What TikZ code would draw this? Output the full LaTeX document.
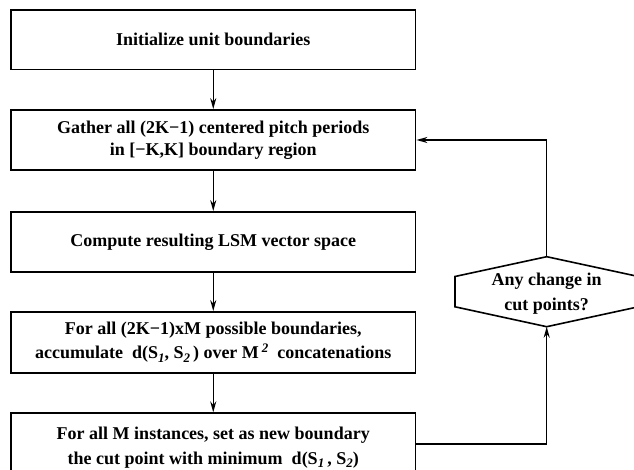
\documentclass[tikz,border=0pt]{standalone}
\usepackage{fontspec}
\setmainfont{Liberation Serif}
\usetikzlibrary{arrows.meta}
\newcommand\mysub[1]{\raisebox{-0.4ex}{\fontsize{13}{13}\selectfont\itshape #1}}
\newcommand\mysup[1]{\raisebox{0.75ex}{\fontsize{13}{13}\selectfont\itshape #1}}
\tikzset{
  stepbox/.style={draw=black, line width=1.8pt, rectangle, minimum width=404.5pt, inner sep=0pt,
    align=center, font=\fontsize{18}{22}\selectfont\bfseries},
  arr/.style={line width=1.5pt, -{Stealth[length=11pt,width=6pt]}},
  hexline/.style={draw=black, line width=1.6pt, line join=miter}
}
\begin{document}
\begin{tikzpicture}[x=1pt,y=-1pt]
\useasboundingbox (0,0) rectangle (634,470);
\clip (0,0) rectangle (634,470);
\node[stepbox, minimum height=59.5pt] (b1) at (213.25,39.75) {Initialize unit boundaries};
\node[stepbox, minimum height=60pt] (b2) at (213.25,140) {Gather all (2K−1) centered pitch periods\\in [−K,K] boundary region};
\node[stepbox, minimum height=60pt] (b3) at (213.25,242) {Compute resulting LSM vector space};
\node[stepbox, minimum height=61pt, font=\fontsize{18}{24}\selectfont\bfseries] (b4) at (213.25,342.5) {For all (2K−1)xM possible boundaries,\\accumulate\ \ d(S\mysub{1}, S\mysub{2}\,) over M\,\mysup{2}\ \ concatenations};
\node[stepbox, minimum height=68pt, font=\fontsize{18}{25}\selectfont\bfseries] (b5) at (213.25,447.3) {For all M instances, set as new boundary\\the cut point with minimum\ \ d(S\mysub{1}\,, S\mysub{2})};
% hexagon decision
\node[font=\fontsize{18}{25}\selectfont\bfseries, align=center, inner sep=0pt] (hex) at (546.7,293.5) {Any change in\\cut points?};
\coordinate (hext) at (546.7,256.7);
\coordinate (hexb) at (546.7,326.7);
\draw[hexline] (hext) -- (455,276.5) -- (455,306.8) -- (hexb) -- (638.4,306.8) -- (638.4,276.5) -- cycle;
% connectors
\draw[arr] (b1.south) -- (b2.north);
\draw[arr] (b2.south) -- (b3.north);
\draw[arr] (b3.south) -- (b4.north);
\draw[arr] (b4.south) -- (b5.north);
\draw[arr] ([yshift=3.5pt]b5.east) -| (hexb);
\draw[arr] (hext) |- (b2.east);
\end{tikzpicture}
\end{document}
